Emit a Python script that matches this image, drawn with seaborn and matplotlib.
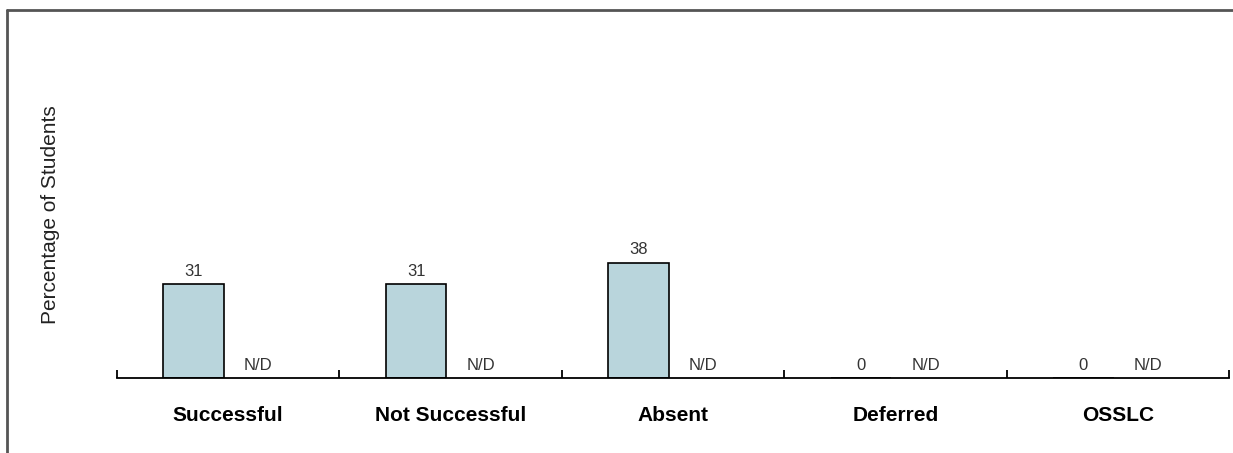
import numpy as np
import pandas as pd
import matplotlib
matplotlib.use("Agg")
import matplotlib.pyplot as plt
from matplotlib.lines import Line2D
import seaborn as sns

categories = ["Successful", "Not Successful", "Absent", "Deferred", "OSSLC"]
school_values = [31, 31, 38, 0, 0]
other_values = [np.nan, np.nan, np.nan, np.nan, np.nan]
other_labels = ["N/D", "N/D", "N/D", "N/D", "N/D"]
series_names = ["School", "Comparison"]

sns.set_style("white")
plt.rcParams["font.family"] = ["Liberation Sans", "DejaVu Sans"]

df = pd.DataFrame({
    "category": categories * 2,
    "value": school_values + other_values,
    "series": [series_names[0]] * 5 + [series_names[1]] * 5,
})

fig = plt.figure(figsize=(12.33, 4.53), dpi=100)
ax = fig.add_axes([0.0949, 0.1656, 0.9019, 0.669])

sns.barplot(data=df, x="category", y="value", hue="series", order=categories,
            hue_order=series_names, palette=["#b9d5dc", "#b9d5dc"], saturation=1,
            width=0.62, gap=0.12, edgecolor="black", linewidth=1.2,
            legend=False, ax=ax)

ax.set_ylim(0, 100)
ax.set_xlim(-0.5, len(categories) - 0.5)

# value labels
for i, v in enumerate(school_values):
    ax.text(i - 0.155, v + 1.8, f"{v:g}", ha="center", va="bottom", fontsize=12, color="#333333")
for i, t in enumerate(other_labels):
    ax.text(i + 0.135, 1.8, t, ha="center", va="bottom", fontsize=12, color="#333333")

for s in ["top", "right", "left"]:
    ax.spines[s].set_visible(False)
ax.spines["bottom"].set_linewidth(1.3)
ax.spines["bottom"].set_color("black")
ax.set_yticks([])
ax.set_xticks(range(len(categories)))
ax.set_xticklabels(categories, fontsize=15, fontweight="bold", color="black")
ax.tick_params(axis="x", which="major", length=0, pad=20)
ax.set_xticks(np.arange(-0.5, len(categories)), minor=True)
ax.tick_params(axis="x", which="minor", bottom=True, direction="in", length=6, width=1.3, color="black")
ax.set_xlabel("")
ax.set_ylabel("Percentage of Students", fontsize=15, color="#222222")
ax.yaxis.set_label_coords(-0.051, 0.538)

# outer frame (top and left)
fig.add_artist(Line2D([0.0057, 1.0], [0.978, 0.978], transform=fig.transFigure, color="#555555", lw=2))
fig.add_artist(Line2D([0.0057, 0.0057], [0.0, 0.978], transform=fig.transFigure, color="#555555", lw=2))

fig.savefig("out.png", dpi=100)
